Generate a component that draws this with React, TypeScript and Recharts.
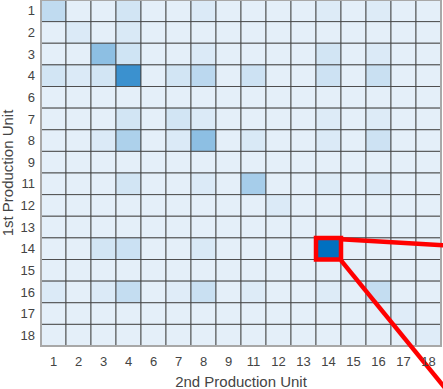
import {
  ScatterChart,
  Scatter,
  XAxis,
  YAxis,
  ReferenceArea,
  ReferenceLine,
} from "recharts";

// production units on both axes (5 and 10 are not used)
const units = ["1", "2", "3", "4", "6", "7", "8", "9", "11", "12", "13", "14", "15", "16", "17", "18"];

// share of transitions, % of the largest cell; rows = 1st unit, columns = 2nd unit
const shares: number[][] = [
  [16, 0, 0, 8, 0, 0, 4, 0, 0, 0, 0, 3, 0, 3, 0, 0],
  [0, 4, 0, 5, 0, 0, 0, 0, 0, 0, 0, 0, 0, 0, 0, 0],
  [0, 0, 38, 9, 0, 0, 4, 0, 0, 0, 0, 8, 0, 4, 0, 0],
  [8, 4, 8, 74, 0, 8, 18, 0, 10, 0, 0, 10, 0, 12, 0, 0],
  [0, 0, 0, 0, 0, 0, 0, 0, 0, 0, 0, 0, 0, 0, 0, 0],
  [0, 0, 0, 8, 0, 8, 4, 0, 0, 0, 0, 3, 0, 3, 0, 0],
  [0, 0, 4, 24, 0, 4, 38, 0, 5, 0, 0, 4, 0, 10, 0, 0],
  [0, 0, 0, 0, 0, 0, 0, 0, 0, 0, 0, 0, 0, 0, 0, 0],
  [0, 0, 0, 8, 0, 0, 4, 0, 27, 0, 0, 3, 0, 4, 0, 0],
  [0, 0, 0, 0, 0, 0, 0, 0, 0, 4, 0, 0, 0, 0, 0, 0],
  [0, 0, 0, 0, 0, 0, 0, 0, 0, 0, 0, 0, 0, 0, 0, 0],
  [0, 0, 8, 11, 0, 0, 5, 0, 0, 0, 0, 100, 0, 0, 0, 0],
  [0, 0, 0, 0, 0, 0, 0, 0, 0, 0, 0, 0, 0, 0, 0, 0],
  [4, 0, 4, 14, 0, 2, 12, 0, 3, 0, 0, 3, 0, 14, 0, 0],
  [0, 0, 0, 0, 0, 0, 0, 0, 0, 0, 0, 0, 0, 0, 2, 0],
  [0, 0, 0, 0, 0, 0, 0, 0, 0, 0, 0, 0, 0, 0, 0, 2],
];

// highlighted cell and the two callout lines leaving it (axis units)
const highlight = { row: "14", col: "14" };
const calloutTop = [{ dx: 1, dy: 0.06 }, { dx: 5.5, dy: 0.37 }];
const calloutBottom = [{ dx: 1, dy: 1.04 }, { dx: 5.5, dy: 7.42 }];

const LOW = [228, 239, 249];
const HIGH = [0, 112, 192];

function cellColor(v: number) {
  const t = v / 100;
  const c = LOW.map((lo, i) => Math.round(lo + (HIGH[i] - lo) * t));
  return `rgb(${c[0]},${c[1]},${c[2]})`;
}

const ticks = units.map((_, i) => i + 0.5);
const labelAt = (v: number) => units[Math.floor(v)] ?? "";

const cells = shares.flatMap((row, r) =>
  row.map((v, c) => ({ x: c + 0.5, y: r + 0.5, r, c, v }))
);

const font = "'Liberation Sans', Arial, sans-serif";

export default function App() {
  const hc = units.indexOf(highlight.col);
  const hr = units.indexOf(highlight.row);
  return (
    <div style={{ position: "absolute", left: 0, top: 0 }}>
      <ScatterChart
        width={443}
        height={389}
        margin={{ top: 0, right: 2, bottom: 0, left: 0 }}
        style={{ fontFamily: font }}
      >
        <XAxis
          type="number"
          dataKey="x"
          domain={[0, 16]}
          ticks={ticks}
          tickFormatter={labelAt}
          interval={0}
          axisLine={false}
          tickLine={false}
          tickMargin={5}
          height={43}
          tick={{ fontSize: 13, fill: "#444" }}
          label={{
            value: "2nd Production Unit",
            position: "insideBottom",
            offset: 2.5,
            fontSize: 15,
            fill: "#444",
          }}
        />
        <YAxis
          type="number"
          dataKey="y"
          domain={[0, 16]}
          reversed
          ticks={ticks}
          tickFormatter={labelAt}
          interval={0}
          axisLine={false}
          tickLine={false}
          tickMargin={0}
          width={41}
          tick={{ fontSize: 13, fill: "#444" }}
          label={{
            value: "1st Production Unit",
            angle: -90,
            position: "insideLeft",
            offset: 8,
            fontSize: 15,
            fill: "#444",
            style: { textAnchor: "middle" },
          }}
        />
        {cells.map((d) => (
          <ReferenceArea
            key={`${d.r}-${d.c}`}
            x1={d.c}
            x2={d.c + 1}
            y1={d.r}
            y2={d.r + 1}
            fill={cellColor(d.v)}
            fillOpacity={1}
            stroke="#404040"
            strokeWidth={1}
            strokeOpacity={0.85}
          />
        ))}
        <ReferenceArea
          x1={0}
          x2={16}
          y1={0}
          y2={16}
          fill="none"
          stroke="#a8a8a8"
          strokeWidth={2}
        />
        <ReferenceArea
          x1={hc}
          x2={hc + 1}
          y1={hr}
          y2={hr + 1}
          fill="none"
          stroke="#ff0000"
          strokeWidth={4.5}
          ifOverflow="visible"
        />
        <ReferenceLine
          segment={calloutTop.map((p) => ({ x: hc + p.dx, y: hr + p.dy }))}
          stroke="#ff0000"
          strokeWidth={4.5}
          ifOverflow="visible"
        />
        <ReferenceLine
          segment={calloutBottom.map((p) => ({ x: hc + p.dx, y: hr + p.dy }))}
          stroke="#ff0000"
          strokeWidth={4.5}
          ifOverflow="visible"
        />
        <Scatter data={cells} fill="none" shape={() => <g />} isAnimationActive={false} />
      </ScatterChart>
    </div>
  );
}
